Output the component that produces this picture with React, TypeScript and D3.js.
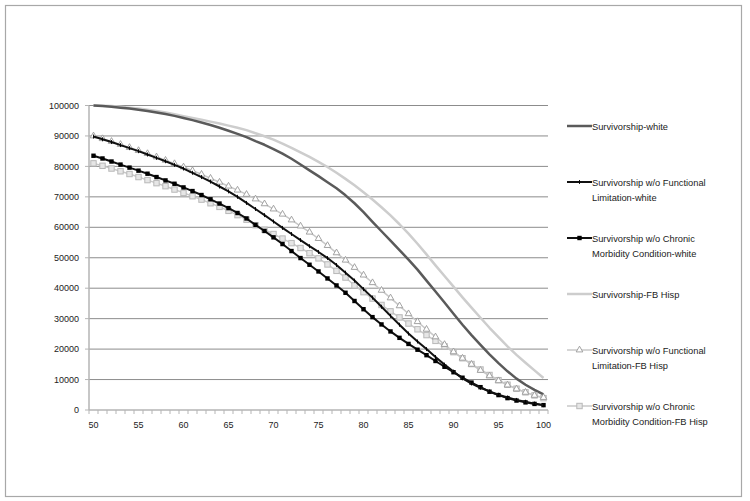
import React from "react";
import * as d3 from "d3";

const ages = [50,51,52,53,54,55,56,57,58,59,60,61,62,63,64,65,66,67,68,69,70,71,72,73,74,75,76,77,78,79,80,81,82,83,84,85,86,87,88,89,90,91,92,93,94,95,96,97,98,99,100];
const xTickLabels = [50,55,60,65,70,75,80,85,90,95,100];
const yTicks = [0,10000,20000,30000,40000,50000,60000,70000,80000,90000,100000];

const survWhite = [100000,99800,99600,99300,99000,98600,98200,97700,97200,96600,95900,95200,94400,93600,92700,91700,90700,89600,88300,87100,85700,84200,82500,80600,78700,76800,74800,72800,70500,67900,65000,61800,58700,55600,52500,49400,46100,42500,38900,35300,31600,28000,24600,21400,18300,15400,12700,10300,8300,6600,5100];
const flWhite = [89800,88900,88000,87000,86000,85000,83900,82800,81700,80500,79300,77900,76500,75000,73400,71800,70000,68000,66000,64000,61900,59800,57800,55800,53800,51900,49900,47600,45100,42500,39700,36900,33900,30900,28000,25100,22500,20000,17400,14900,12600,10400,8700,7300,6100,5000,4100,3300,2700,2100,1600];
const cmWhite = [83500,82600,81600,80600,79600,78600,77600,76500,75400,74300,73100,71900,70600,69200,67800,66300,64700,62900,60800,58800,56700,54500,52200,49900,47700,45500,43200,40900,38500,35800,33100,30500,28100,25800,23700,21700,19800,18000,16100,14200,12400,10600,9000,7500,6000,4900,3900,3100,2500,2000,1600];
const survHisp = [100000,99900,99800,99600,99300,99000,98600,98200,97700,97100,96500,95900,95300,94700,94100,93400,92700,91900,90900,89900,88800,87500,86100,84600,83100,81500,79800,77900,75900,73800,71500,69100,66600,63900,61000,57900,54600,51100,47500,44000,40500,37000,33600,30300,27000,23900,20900,18100,15500,13000,10500];
const flHisp = [90000,89100,88200,87200,86200,85200,84200,83100,82000,80900,79800,78600,77400,76100,74800,73500,72200,70800,69300,67700,66000,64300,62400,60400,58400,56300,54000,51600,49200,46800,44300,41800,39300,36800,34200,31600,29000,26500,24000,21500,19100,17000,15000,13000,11200,9600,8200,6900,5800,4800,4100];
const cmHisp = [81000,80200,79300,78400,77500,76500,75500,74500,73500,72400,71300,70200,69100,67900,66700,65400,64000,62500,60700,59200,57800,56300,54800,53200,51500,49800,47800,45700,43500,40900,38700,36600,34500,32400,30400,28400,26500,24600,22700,20900,19000,17000,15100,13300,11500,9800,8300,7000,5800,4800,3900];

const seriesNames = [
  ["Survivorship-white"],
  ["Survivorship w/o Functional", "Limitation-white"],
  ["Survivorship w/o Chronic", "Morbidity Condition-white"],
  ["Survivorship-FB Hisp"],
  ["Survivorship w/o Functional", "Limitation-FB Hisp"],
  ["Survivorship w/o Chronic", "Morbidity Condition-FB Hisp"],
];

type Style = { color: string; width: number; marker: string };
const styles: Style[] = [
  { color: "#5a5a5a", width: 2.5, marker: "none" },
  { color: "#111", width: 2, marker: "plus" },
  { color: "#111", width: 2, marker: "square" },
  { color: "#cdcdcd", width: 2.5, marker: "none" },
  { color: "#c8c8c8", width: 1.5, marker: "triangle" },
  { color: "#c8c8c8", width: 1.5, marker: "hsquare" },
];
const allSeries = [survWhite, flWhite, cmWhite, survHisp, flHisp, cmHisp];

const FONT = "'Liberation Sans', Arial, sans-serif";

function Marker({ kind, x, y }: { kind: string; x: number; y: number }) {
  if (kind === "square") return <rect x={x - 2.2} y={y - 2.2} width={4.4} height={4.4} fill="#000" />;
  if (kind === "hsquare") return <rect x={x - 2.7} y={y - 2.7} width={5.4} height={5.4} fill="#e6e6e6" stroke="#b8b8b8" strokeWidth={1} />;
  if (kind === "triangle") {
    const p = d3.symbol(d3.symbolTriangle, 19)();
    return <path d={p || ""} transform={`translate(${x},${y})`} fill="#fff" stroke="#999" strokeWidth={0.9} />;
  }
  if (kind === "plus") return <path d={`M${x},${y - 2}V${y + 2}`} stroke="#000" strokeWidth={0.9} />;
  return null;
}

export default function App() {
  const W = 750, H = 501;
  const left = 89, right = 548, top = 105.5, bottom = 410;
  const x = d3.scaleBand<number>().domain(ages).range([left, right]).padding(0);
  const xc = (a: number) => (x(a) as number) + x.bandwidth() / 2;
  const y = d3.scaleLinear().domain([0, 100000]).range([bottom, top]);

  const line = (vals: number[]) =>
    d3.line<number>().x((_, i) => xc(ages[i])).y((v) => y(v))(vals) || "";

  const legendX = 567;
  const legendY0 = 126;
  const legendStep = 56;

  return (
    <svg width={W} height={H} style={{ position: "absolute", left: 0, top: 0, background: "#fff" }} fontFamily={FONT}>
      <rect x={0} y={0} width={W} height={H} fill="#fff" />
      <rect x={5.5} y={5.5} width={736} height={491} fill="#fff" stroke="#a8a8a8" strokeWidth={1.2} />
      {yTicks.slice(1).map((t) => (
        <line key={t} x1={left} x2={right} y1={y(t)} y2={y(t)} stroke="#8c8c8c" strokeWidth={1} />
      ))}
      <line x1={left} x2={left} y1={top} y2={bottom} stroke="#b5b5b5" strokeWidth={1.5} />
      {yTicks.map((t) => (
        <g key={t}>
          <line x1={left - 4} x2={left} y1={y(t)} y2={y(t)} stroke="#b5b5b5" strokeWidth={1} />
          <text x={79} y={y(t)} dy="0.35em" textAnchor="end" fontSize={9} fill="#222">{t}</text>
        </g>
      ))}
      <line x1={left} x2={right} y1={bottom} y2={bottom} stroke="#b5b5b5" strokeWidth={1.5} />
      {ages.map((a) => (
        <line key={a} x1={x(a) as number} x2={x(a) as number} y1={bottom} y2={bottom + 4} stroke="#b5b5b5" strokeWidth={1} />
      ))}
      <line x1={right} x2={right} y1={bottom} y2={bottom + 4} stroke="#b5b5b5" strokeWidth={1} />
      {xTickLabels.map((a) => (
        <text key={a} x={xc(a)} y={425} dy="0.35em" textAnchor="middle" fontSize={9} fill="#222">{a}</text>
      ))}
      {[3, 0, 5, 4, 2, 1].map((si) => (
        <g key={si}>
          <path d={line(allSeries[si])} fill="none" stroke={styles[si].color} strokeWidth={styles[si].width} strokeLinejoin="round" />
          {allSeries[si].map((v, i) => (
            <Marker key={i} kind={styles[si].marker} x={xc(ages[i])} y={y(v)} />
          ))}
        </g>
      ))}
      {seriesNames.map((lines, si) => {
        const ly = legendY0 + si * legendStep;
        return (
          <g key={si}>
            <line x1={legendX} x2={legendX + 25} y1={ly} y2={ly} stroke={styles[si].color} strokeWidth={styles[si].width} />
            <Marker kind={styles[si].marker} x={legendX + 12.5} y={ly} />
            {lines.map((t, k) => (
              <text key={k} x={592} y={ly + 1 + k * 14.5} dy="0.35em" fontSize={9.3} fill="#222">{t}</text>
            ))}
          </g>
        );
      })}
    </svg>
  );
}
